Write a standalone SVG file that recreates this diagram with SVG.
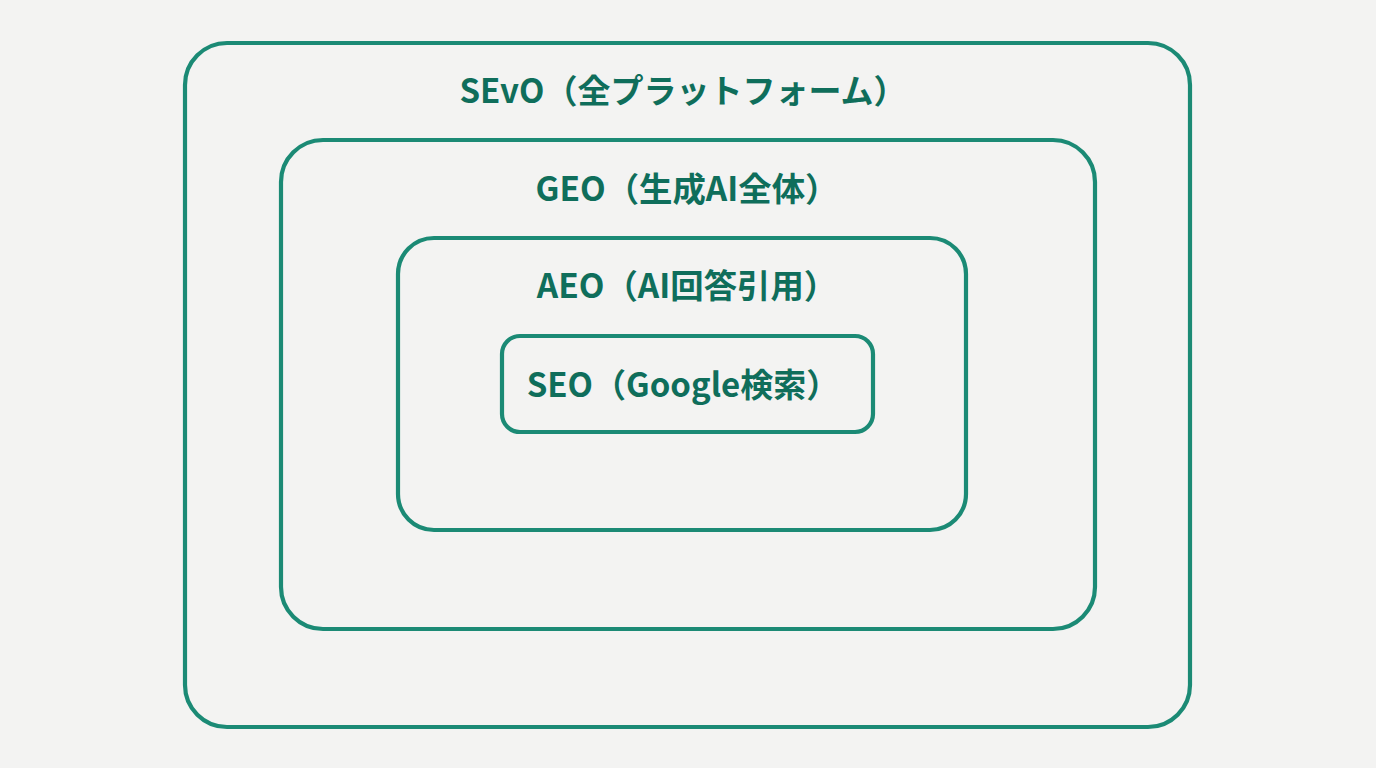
<svg xmlns="http://www.w3.org/2000/svg" width="1376" height="768" viewBox="0 0 1376 768">
<style>
.box{fill:none;stroke:#1b8a75;stroke-width:4.2}
.lbl{font-family:"Noto Sans CJK JP","Noto Sans",sans-serif;font-weight:700;font-size:33.4px;fill:#0f6e5b;text-anchor:middle}
</style>
<rect width="1376" height="768" fill="#f3f3f2"/>
<g id="sevo"><rect class="box" x="185" y="43" width="1005" height="684" rx="42"/><text class="lbl" x="683" y="103" style="font-size:33px">SEvO（全プラットフォーム）</text></g>
<g id="geo"><rect class="box" x="281" y="140" width="814" height="489" rx="42"/><text class="lbl" x="687" y="201">GEO（生成AI全体）</text></g>
<g id="aeo"><rect class="box" x="398" y="238" width="568" height="292" rx="36"/><text class="lbl" x="687" y="298">AEO（AI回答引用）</text></g>
<g id="seo"><rect class="box" x="502" y="336" width="371" height="96" rx="18"/><text class="lbl" x="683" y="397" style="font-size:33px">SEO（Google検索）</text></g>
<g id="connectors"/>
</svg>
